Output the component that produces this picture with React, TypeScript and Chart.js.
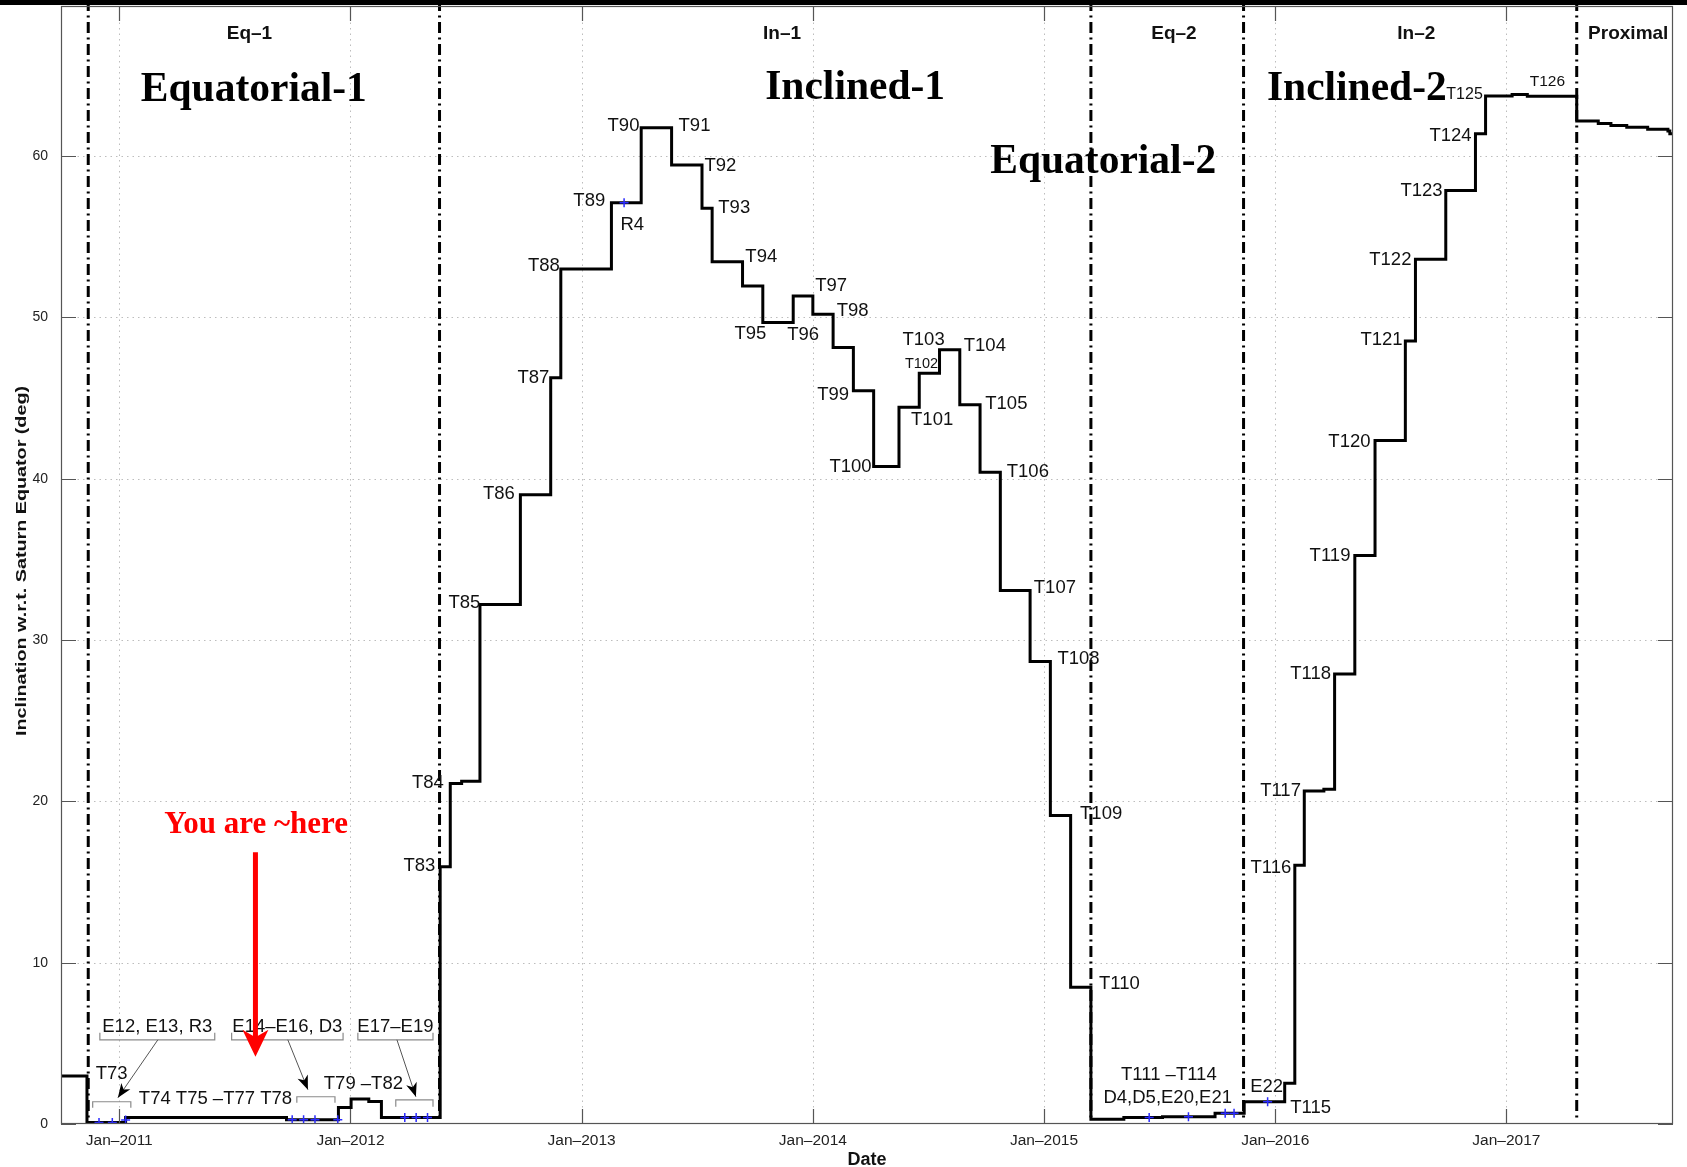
import React, { useEffect, useRef } from 'react';
import { Chart, registerables } from 'chart.js';

Chart.register(...registerables);

const W = 1687;
const H = 1167;
const FONT_SANS = "'Liberation Sans', Arial, Helvetica, sans-serif";
const FONT_SERIF = "'Liberation Serif', 'Times New Roman', Times, serif";

// ---------------- data ----------------
const axisStartDate = '2010-10-01';
const axisEndDate = '2017-09-21';

// inclination after each flyby / orbit change (stepped)
const stepDates = [
  '2010-10-01', '2010-11-11', '2011-01-11', '2011-02-18', '2011-04-19', '2011-05-08', '2011-06-20', '2011-09-22',
  '2011-12-13', '2012-01-02', '2012-01-30', '2012-02-19', '2012-05-22', '2012-06-07', '2012-06-25', '2012-07-24',
  '2012-09-26', '2012-11-13', '2012-11-29', '2013-02-17', '2013-04-05', '2013-05-23', '2013-07-10', '2013-07-26',
  '2013-09-12', '2013-10-14', '2013-12-01', '2014-01-01', '2014-02-02', '2014-03-06', '2014-04-07', '2014-05-17',
  '2014-06-18', '2014-07-20', '2014-08-21', '2014-09-22', '2014-10-24', '2014-12-10', '2015-01-11', '2015-02-12',
  '2015-03-16', '2015-05-07', '2015-07-07', '2015-09-28', '2015-11-13', '2016-01-16', '2016-02-01', '2016-02-16',
  '2016-03-18', '2016-04-04', '2016-05-06', '2016-06-07', '2016-07-25', '2016-08-10', '2016-09-27', '2016-11-13',
  '2016-11-29', '2017-01-10', '2017-02-03', '2017-04-22', '2017-05-26', '2017-06-15', '2017-07-10', '2017-08-12',
  '2017-09-13', '2017-09-16', '2017-09-21',
];
const stepInclinations = [
  2.97, 0.10, 0.40, 0.41, 0.41, 0.41, 0.40, 0.27,
  1.03, 1.55, 1.40, 0.41, 15.95, 21.10, 21.25, 32.20,
  39.00, 46.25, 53.00, 57.10, 61.75, 59.44, 56.76, 53.44,
  51.95, 49.68, 51.33, 50.20, 48.13, 45.45, 40.76, 44.43,
  46.54, 47.99, 44.58, 40.40, 33.07, 28.67, 19.13, 8.47,
  0.29, 0.41, 0.45, 0.66, 1.38, 2.52, 16.04, 20.64,
  20.75, 27.90, 35.24, 42.37, 48.54, 53.60, 57.87, 61.38,
  63.72, 63.82, 63.70, 62.17, 62.02, 61.90, 61.78, 61.66,
  61.55, 61.38, 61.38,
];

// non-Titan flybys (blue + markers)
const otherFlybyNames = ['E12', 'E13', 'R3', 'E14', 'E15', 'E16', 'D3', 'E17', 'E18', 'E19', 'R4', 'D4', 'D5', 'E20', 'E21', 'E22'];
const otherFlybyDates = [
  '2010-11-30', '2010-12-21', '2011-01-11', '2011-10-01', '2011-10-19', '2011-11-06', '2011-12-12', '2012-03-27',
  '2012-04-14', '2012-05-02', '2013-03-09', '2015-06-16', '2015-08-17', '2015-10-14', '2015-10-28', '2015-12-20',
];
const otherFlybyInclinations = [0.10, 0.10, 0.25, 0.27, 0.27, 0.27, 0.27, 0.41, 0.41, 0.41, 57.10, 0.41, 0.45, 0.66, 0.66, 1.38];

// mission phases
const phaseNames = ['Eq–1', 'In–1', 'Eq–2', 'In–2', 'Proximal'];
const phaseStartDates = ['2010-11-13', '2012-05-21', '2015-03-16', '2015-11-12', '2017-04-22'];
const phaseLabelYears = [2011.563, 2013.867, 2015.562, 2016.61, 2017.527];

const yearTicks = [2011, 2012, 2013, 2014, 2015, 2016, 2017];
const inclinationTicks = [0, 10, 20, 30, 40, 50, 60];

// ---------------- annotations (data units) ----------------
const flybyLabels: [string, number, number][] = [
  ['T73', 2010.967, 3.13], ['T74 T75 –T77 T78', 2011.416, 1.57], ['T79 –T82', 2012.056, 2.5],
  ['T83', 2012.298, 15.99], ['T84', 2012.335, 21.12], ['T85', 2012.493, 32.31], ['T86', 2012.642, 39.04],
  ['T87', 2012.791, 46.24], ['T88', 2012.837, 53.16], ['T89', 2013.033, 57.23], ['R4', 2013.219, 55.76],
  ['T90', 2013.181, 61.89], ['T91', 2013.488, 61.89], ['T92', 2013.6, 59.36], ['T93', 2013.66, 56.76],
  ['T94', 2013.777, 53.76], ['T95', 2013.73, 48.97], ['T96', 2013.958, 48.9], ['T97', 2014.079, 51.97],
  ['T98', 2014.172, 50.37], ['T99', 2014.088, 45.17], ['T100', 2014.163, 40.71], ['T101', 2014.516, 43.64],
  ['T102', 2014.47, 47.1], ['T103', 2014.479, 48.63], ['T104', 2014.744, 48.23], ['T105', 2014.837, 44.64],
  ['T106', 2014.93, 40.44], ['T107', 2015.047, 33.24], ['T108', 2015.149, 28.85], ['T109', 2015.247, 19.25],
  ['T110', 2015.326, 8.66], ['T111 –T114', 2015.54, 3.06], ['D4,D5,E20,E21', 2015.535, 1.6],
  ['E22', 2015.963, 2.33], ['T115', 2016.153, 1.0], ['T116', 2015.981, 15.86], ['T117', 2016.023, 20.65],
  ['T118', 2016.153, 27.91], ['T119', 2016.237, 35.24], ['T120', 2016.321, 42.3], ['T121', 2016.46, 48.63],
  ['T122', 2016.498, 53.56], ['T123', 2016.633, 57.83], ['T124', 2016.758, 61.23], ['T125', 2016.819, 63.82],
  ['T126', 2017.177, 64.63],
];
const smallLabelSizes: Record<string, number> = { T102: 14.5, T125: 16, T126: 15.5 };

const bracketLabels = ['E12, E13, R3', 'E14–E16, D3', 'E17–E19'];
const upperBrackets = [[2010.916, 2011.413], [2011.486, 2011.968], [2012.032, 2012.357]];
const lowerBrackets = [[2010.885, 2011.05, 1.38, 1.01], [2011.768, 2011.933, 1.69, 1.32], [2012.196, 2012.357, 1.5, 1.07]];
const bracketArrows = [[2011.167, 5.22, 2010.994, 1.63], [2011.729, 5.22, 2011.816, 2.13], [2012.201, 5.22, 2012.283, 1.69]];

const bigLabels: [string, number, number][] = [
  ['Equatorial-1', 2011.582, 63.4],
  ['Inclined-1', 2014.183, 63.56],
  ['Equatorial-2', 2015.256, 58.96],
  ['Inclined-2', 2016.353, 63.5],
];

function toYear(s: string): number {
  const [y, m, d] = s.split('-').map(Number);
  const t = Date.UTC(y, m - 1, d);
  const t0 = Date.UTC(y, 0, 1);
  const t1 = Date.UTC(y + 1, 0, 1);
  return y + (t - t0) / (t1 - t0);
}

function arrowHead(ctx: any, x0: number, y0: number, x1: number, y1: number, len: number, half: number, color: string) {
  const a = Math.atan2(y1 - y0, x1 - x0);
  const c = Math.cos(a), s = Math.sin(a);
  const bx = x1 - len * c, by = y1 - len * s;
  const nx = x1 - len * 0.72 * c, ny = y1 - len * 0.72 * s;
  ctx.beginPath();
  ctx.moveTo(x1, y1);
  ctx.lineTo(bx - half * s, by + half * c);
  ctx.lineTo(nx, ny);
  ctx.lineTo(bx + half * s, by - half * c);
  ctx.closePath();
  ctx.fillStyle = color;
  ctx.fill();
}

const decorPlugin = {
  id: 'decor',
  beforeDatasetsDraw(chart: any) {
    const { ctx, chartArea: ca, scales } = chart;
    const xs = scales.x, ys = scales.y;
    ctx.save();
    ctx.strokeStyle = '#bdbdbd';
    ctx.lineWidth = 1;
    ctx.setLineDash([1.5, 4]);
    ctx.beginPath();
    xs.ticks.forEach((t: any) => {
      const px = Math.round(xs.getPixelForValue(t.value)) + 0.5;
      ctx.moveTo(px, ca.top);
      ctx.lineTo(px, ca.bottom);
    });
    ys.ticks.forEach((t: any) => {
      if (t.value <= 0) return;
      const py = Math.round(ys.getPixelForValue(t.value)) + 0.5;
      ctx.moveTo(ca.left, py);
      ctx.lineTo(ca.right, py);
    });
    ctx.stroke();

    ctx.setLineDash([11, 4.5, 2, 4.5]);
    ctx.lineWidth = 3;
    ctx.strokeStyle = '#000';
    ctx.beginPath();
    phaseStartDates.forEach((d) => {
      const px = xs.getPixelForValue(toYear(d));
      ctx.moveTo(px, 0);
      ctx.lineTo(px, ca.bottom - 5);
    });
    ctx.stroke();
    ctx.restore();
  },
  afterDatasetsDraw(chart: any) {
    const { ctx, chartArea: ca, scales } = chart;
    const xs = scales.x, ys = scales.y;
    const X = (v: number) => xs.getPixelForValue(v);
    const Y = (v: number) => ys.getPixelForValue(v);
    ctx.save();

    // axes box + inward ticks
    ctx.setLineDash([]);
    ctx.strokeStyle = '#555';
    ctx.lineWidth = 1.2;
    ctx.strokeRect(ca.left + 0.5, ca.top + 0.5, ca.right - ca.left - 1, ca.bottom - ca.top - 1);
    ctx.beginPath();
    xs.ticks.forEach((t: any) => {
      const px = Math.round(X(t.value)) + 0.5;
      ctx.moveTo(px, ca.bottom);
      ctx.lineTo(px, ca.bottom - 15);
      ctx.moveTo(px, ca.top);
      ctx.lineTo(px, ca.top + 15);
    });
    ys.ticks.forEach((t: any) => {
      const py = Math.round(Y(t.value)) + 0.5;
      ctx.moveTo(ca.left, py);
      ctx.lineTo(ca.left + 15, py);
      ctx.moveTo(ca.right, py);
      ctx.lineTo(ca.right - 15, py);
    });
    ctx.stroke();

    // phase names
    ctx.fillStyle = '#111';
    ctx.textAlign = 'center';
    ctx.textBaseline = 'middle';
    ctx.font = `bold 19px ${FONT_SANS}`;
    phaseNames.forEach((n, i) => ctx.fillText(n, X(phaseLabelYears[i]), Y(67.57)));

    // flyby labels
    flybyLabels.forEach(([txt, xv, yv]) => {
      const size = smallLabelSizes[txt] || 18.5;
      ctx.font = `${size}px ${FONT_SANS}`;
      ctx.fillStyle = '#111';
      ctx.fillText(txt, X(xv), Y(yv));
    });

    // brackets with labels
    ctx.strokeStyle = '#8a8a8a';
    ctx.lineWidth = 1.2;
    upperBrackets.forEach(([a, b], i) => {
      const x0 = X(a), x1 = X(b), yl = Y(5.22), yt = Y(5.65);
      ctx.beginPath();
      ctx.moveTo(x0, yt);
      ctx.lineTo(x0, yl);
      ctx.lineTo(x1, yl);
      ctx.lineTo(x1, yt);
      ctx.stroke();
      ctx.font = `18.5px ${FONT_SANS}`;
      ctx.fillStyle = '#111';
      ctx.textBaseline = 'alphabetic';
      ctx.fillText(bracketLabels[i], (x0 + x1) / 2, yt - 0.5);
    });
    lowerBrackets.forEach(([a, b, yl, yb]) => {
      const x0 = X(a), x1 = X(b);
      ctx.beginPath();
      ctx.moveTo(x0, Y(yb));
      ctx.lineTo(x0, Y(yl));
      ctx.lineTo(x1, Y(yl));
      ctx.lineTo(x1, Y(yb));
      ctx.stroke();
    });
    bracketArrows.forEach(([a, b, c, d]) => {
      const x0 = X(a), y0 = Y(b), x1 = X(c), y1 = Y(d);
      ctx.strokeStyle = '#555';
      ctx.lineWidth = 1;
      ctx.beginPath();
      ctx.moveTo(x0, y0);
      ctx.lineTo(x1, y1);
      ctx.stroke();
      arrowHead(ctx, x0, y0, x1, y1, 14, 5.5, '#000');
    });

    // big labels
    ctx.textBaseline = 'alphabetic';
    ctx.textAlign = 'center';
    ctx.fillStyle = '#000';
    ctx.font = `bold 41.5px ${FONT_SERIF}`;
    bigLabels.forEach(([txt, xv, yv]) => ctx.fillText(txt, X(xv), Y(yv)));

    // "You are ~here"
    ctx.fillStyle = '#ff0000';
    ctx.font = `bold 31px ${FONT_SERIF}`;
    ctx.fillText('You are ~here', X(2011.592), Y(18.01));
    const ax = X(2011.589), ay0 = Y(16.84), ay1 = Y(4.17);
    ctx.strokeStyle = '#ff0000';
    ctx.lineWidth = 5;
    ctx.beginPath();
    ctx.moveTo(ax, ay0);
    ctx.lineTo(ax, ay1 - 16);
    ctx.stroke();
    arrowHead(ctx, ax, ay0, ax, ay1, 27, 13, '#ff0000');

    ctx.restore();
  },
  afterDraw(chart: any) {
    const { ctx, chartArea: ca } = chart;
    ctx.save();
    // y axis title
    const text = 'Inclination w.r.t. Saturn Equator (deg)';
    ctx.translate(21.5, (ca.top + ca.bottom) / 2 - 4);
    ctx.rotate(-Math.PI / 2);
    ctx.font = `bold 15px ${FONT_SANS}`;
    const w = ctx.measureText(text).width;
    ctx.scale(350 / w, 1);
    ctx.textAlign = 'center';
    ctx.textBaseline = 'middle';
    ctx.fillStyle = '#111';
    ctx.fillText(text, 0, 0);
    ctx.restore();
    // top border band
    ctx.save();
    ctx.fillStyle = '#000';
    ctx.fillRect(0, 0, chart.width, 5);
    ctx.restore();
  },
};

export default function App() {
  const ref = useRef<HTMLCanvasElement>(null);
  useEffect(() => {
    const canvas = ref.current;
    if (!canvas) return;
    const lineData = stepDates.map((d, i) => ({ x: toYear(d), y: stepInclinations[i] }));
    const markerData = otherFlybyDates.map((d, i) => ({ x: toYear(d), y: otherFlybyInclinations[i], name: otherFlybyNames[i] }));
    const chart = new Chart(canvas, {
      type: 'line',
      data: {
        datasets: [
          {
            label: 'Non-Titan flybys',
            data: markerData,
            showLine: false,
            pointStyle: 'cross',
            pointRadius: 4.5,
            pointBorderWidth: 1.5,
            pointBorderColor: '#2b2bff',
            borderColor: '#2b2bff',
          } as any,
          {
            label: 'Inclination',
            data: lineData,
            stepped: 'before',
            borderColor: '#000',
            borderWidth: 3,
            borderJoinStyle: 'miter',
            borderCapStyle: 'butt',
            pointRadius: 0,
            fill: false,
          } as any,
        ],
      },
      options: {
        responsive: false,
        animation: false,
        devicePixelRatio: 1,
        layout: { padding: { left: 0, right: 14, top: 0, bottom: 0 } },
        plugins: {
          legend: { display: false },
          tooltip: { enabled: false },
          title: { display: false },
        },
        scales: {
          x: {
            type: 'linear',
            min: toYear(axisStartDate),
            max: toYear(axisEndDate),
            grid: { display: false },
            border: { display: false },
            afterBuildTicks: (s: any) => {
              s.ticks = yearTicks.map((v) => ({ value: v }));
            },
            afterFit: (s: any) => {
              s.height = 43;
              s.paddingLeft = 0;
              s.paddingRight = 0;
            },
            ticks: {
              autoSkip: false,
              maxRotation: 0,
              minRotation: 0,
              padding: -1,
              color: '#222',
              font: { family: FONT_SANS, size: 15.5 },
              callback: (v: any) => 'Jan–' + v,
            },
            title: {
              display: true,
              text: 'Date',
              color: '#111',
              padding: 0,
              font: { family: FONT_SANS, size: 18, weight: 'bold', lineHeight: 0.8 },
            },
          },
          y: {
            type: 'linear',
            min: 0,
            max: 69.3,
            grid: { display: false },
            border: { display: false },
            afterBuildTicks: (s: any) => {
              s.ticks = inclinationTicks.map((v) => ({ value: v }));
            },
            afterFit: (s: any) => {
              s.width = 61;
              s.paddingTop = 0;
              s.paddingBottom = 0;
            },
            ticks: {
              padding: 5,
              color: '#222',
              font: { family: FONT_SANS, size: 14 },
            },
          },
        },
      } as any,
      plugins: [decorPlugin],
    });
    return () => chart.destroy();
  }, []);
  return (
    <div style={{ position: 'absolute', left: 0, top: 0, width: W, height: H, background: '#fff' }}>
      <canvas ref={ref} width={W} height={H} style={{ display: 'block', width: W, height: H }} />
    </div>
  );
}
